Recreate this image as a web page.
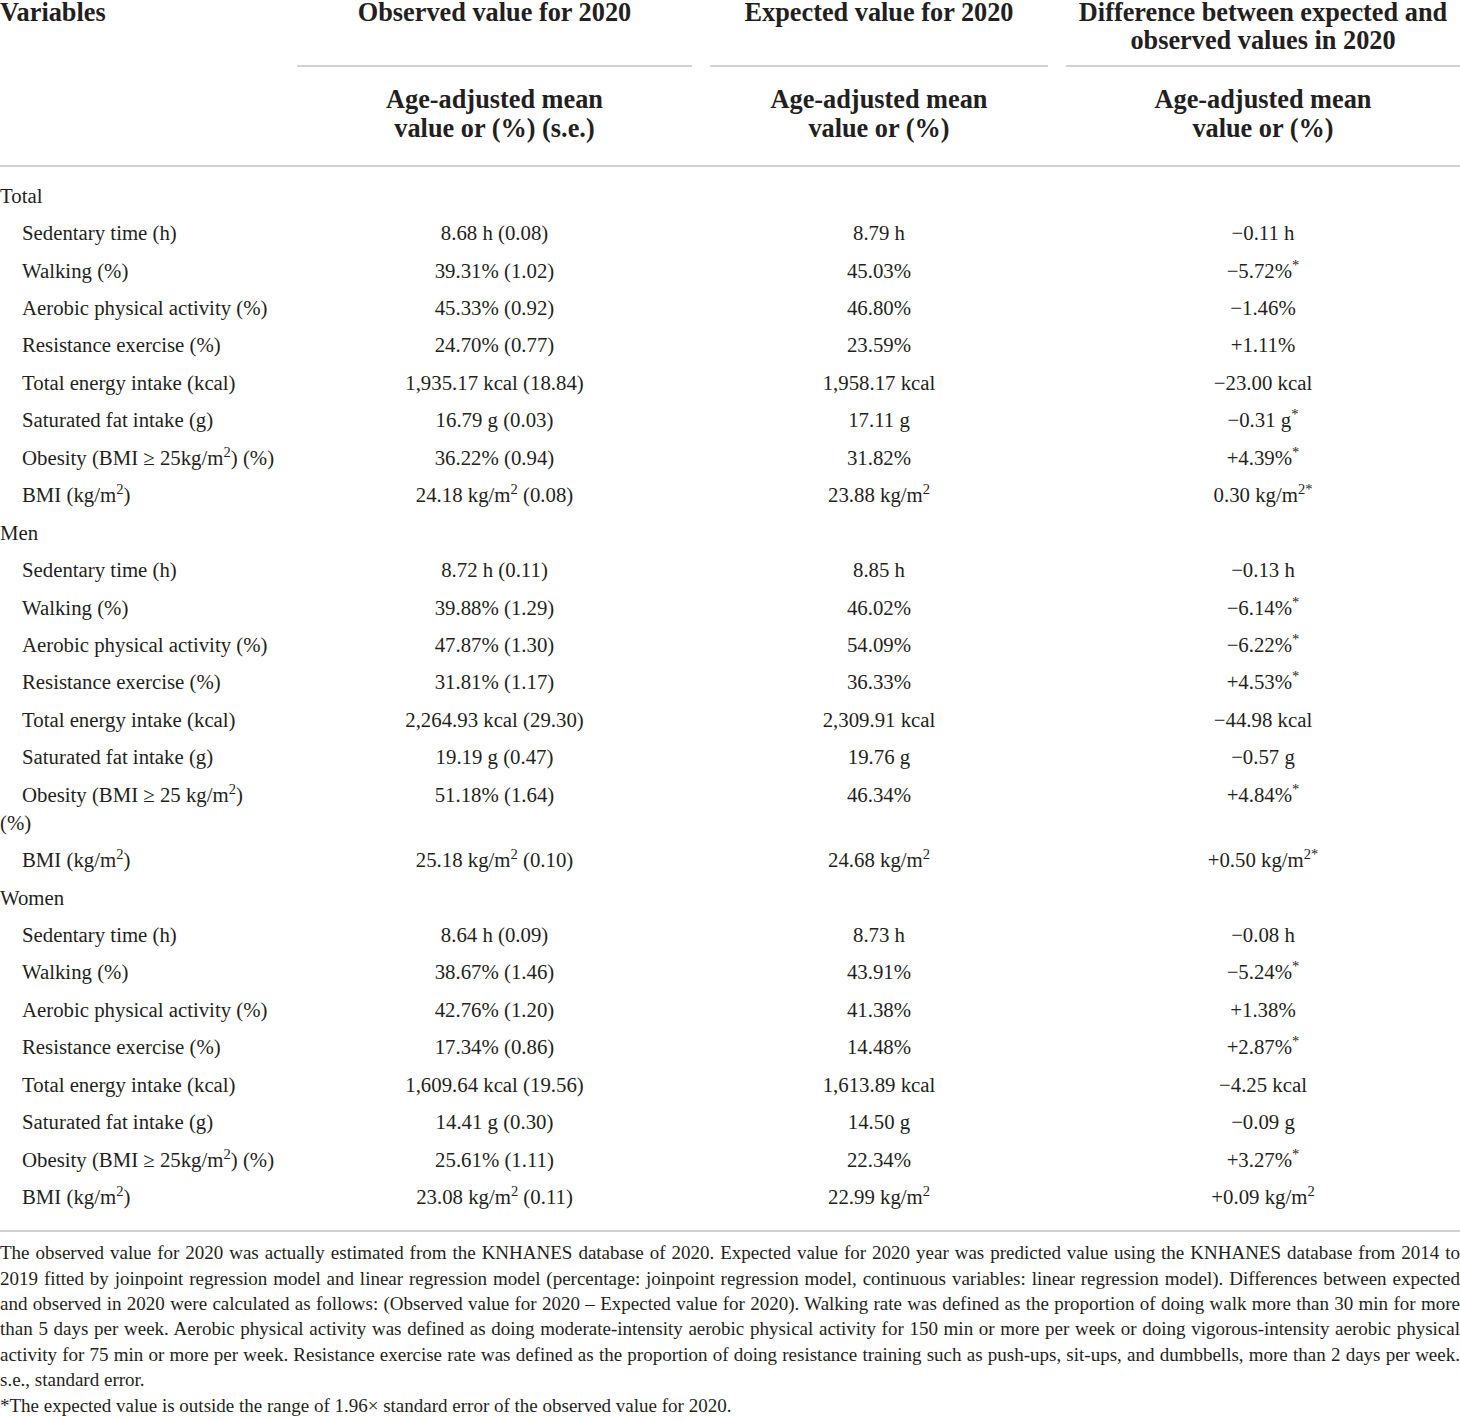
<!DOCTYPE html>
<html lang="en">
<head>
<meta charset="UTF-8">
<title>Observed and expected values for 2020</title>
<script src="https://cdn.jsdelivr.net/npm/chart.js"></script>
<style>
    html, body { margin: 0; padding: 0; background: #fff; }
    body {
        width: 1460px;
        color: #231f20;
        font-family: "Liberation Serif", "Times New Roman", serif;
    }
    table { width: 1460px; border-collapse: collapse; table-layout: fixed; }
    th, td { padding: 0; }
    th { font-weight: bold; font-size: 26.3px; }
    .h1 th { height: 68px; vertical-align: top; }
    .h1 .box { height: 68px; box-sizing: border-box; border-bottom: 2px solid #d2d2d2; line-height: 28px; position: relative; top: -1px; }
    .h1 th.first { text-align: left; line-height: 28px; }
    .h1 th.first span { position: relative; top: -1px; }
    .h2 th { height: 98px; vertical-align: top; border-bottom: 2px solid #d2d2d2; line-height: 29px; padding-top: 17px; box-sizing: border-box; }
    .pad { padding-left: 9px !important; padding-right: 9px !important; }
    .padl { padding-left: 9px !important; }
    tbody td { font-size: 20.8px; line-height: 28px; padding-top: 4.72px; padding-bottom: 4.72px; vertical-align: top; text-align: center; }
    tbody td.var { text-align: left; text-indent: 22px; }
    tbody td.grp { text-align: left; text-indent: 0; }
    tbody tr.spacer td { height: 10px; padding: 0; }
    tbody tr.last td { padding-bottom: 19px; border-bottom: 2px solid #d2d2d2; }
    sup { font-size: 0.7em; line-height: 0; vertical-align: 0.55em; }
    .notes { font-size: 19px; line-height: 25.4px; margin-top: 8px; }
    .notes div { white-space: nowrap; }
    .notes .j { text-align: justify; text-align-last: justify; white-space: normal; word-spacing: -0.5px; }
</style>
</head>
<body>

<table id="tabela">
    <colgroup>
        <col style="width:288px">
        <col style="width:413px">
        <col style="width:356px">
        <col style="width:403px">
    </colgroup>
    <thead id="cabecalho"></thead>
    <tbody id="corpo"></tbody>
</table>
<div class="notes" id="notas"></div>

<script>
    // cabeçalhos
    const firstHeader = "Variables";
    const columnHeaders = [
        "Observed value for 2020",
        "Expected value for 2020",
        "Difference between expected and<br>observed values in 2020"
    ];
    const subHeaders = [
        "Age-adjusted mean<br>value or (%) (s.e.)",
        "Age-adjusted mean<br>value or (%)",
        "Age-adjusted mean<br>value or (%)"
    ];

    const groups = ["Total", "Men", "Women"];

    // Total
    const totalLabels = [
        "Sedentary time (h)", "Walking (%)", "Aerobic physical activity (%)", "Resistance exercise (%)",
        "Total energy intake (kcal)", "Saturated fat intake (g)", "Obesity (BMI ≥ 25kg/m^2) (%)", "BMI (kg/m^2)"
    ];
    const totalObserved = [
        "8.68 h (0.08)", "39.31% (1.02)", "45.33% (0.92)", "24.70% (0.77)",
        "1,935.17 kcal (18.84)", "16.79 g (0.03)", "36.22% (0.94)", "24.18 kg/m^2 (0.08)"
    ];
    const totalExpected = [
        "8.79 h", "45.03%", "46.80%", "23.59%",
        "1,958.17 kcal", "17.11 g", "31.82%", "23.88 kg/m^2"
    ];
    const totalDifference = [
        "−0.11 h", "−5.72%*", "−1.46%", "+1.11%",
        "−23.00 kcal", "−0.31 g*", "+4.39%*", "0.30 kg/m^2*"
    ];

    // Men
    const menLabels = [
        "Sedentary time (h)", "Walking (%)", "Aerobic physical activity (%)", "Resistance exercise (%)",
        "Total energy intake (kcal)", "Saturated fat intake (g)", "Obesity (BMI ≥ 25 kg/m^2)|(%)", "BMI (kg/m^2)"
    ];
    const menObserved = [
        "8.72 h (0.11)", "39.88% (1.29)", "47.87% (1.30)", "31.81% (1.17)",
        "2,264.93 kcal (29.30)", "19.19 g (0.47)", "51.18% (1.64)", "25.18 kg/m^2 (0.10)"
    ];
    const menExpected = [
        "8.85 h", "46.02%", "54.09%", "36.33%",
        "2,309.91 kcal", "19.76 g", "46.34%", "24.68 kg/m^2"
    ];
    const menDifference = [
        "−0.13 h", "−6.14%*", "−6.22%*", "+4.53%*",
        "−44.98 kcal", "−0.57 g", "+4.84%*", "+0.50 kg/m^2*"
    ];

    // Women
    const womenLabels = [
        "Sedentary time (h)", "Walking (%)", "Aerobic physical activity (%)", "Resistance exercise (%)",
        "Total energy intake (kcal)", "Saturated fat intake (g)", "Obesity (BMI ≥ 25kg/m^2) (%)", "BMI (kg/m^2)"
    ];
    const womenObserved = [
        "8.64 h (0.09)", "38.67% (1.46)", "42.76% (1.20)", "17.34% (0.86)",
        "1,609.64 kcal (19.56)", "14.41 g (0.30)", "25.61% (1.11)", "23.08 kg/m^2 (0.11)"
    ];
    const womenExpected = [
        "8.73 h", "43.91%", "41.38%", "14.48%",
        "1,613.89 kcal", "14.50 g", "22.34%", "22.99 kg/m^2"
    ];
    const womenDifference = [
        "−0.08 h", "−5.24%*", "+1.38%", "+2.87%*",
        "−4.25 kcal", "−0.09 g", "+3.27%*", "+0.09 kg/m^2"
    ];

    const noteLines = [
        "The observed value for 2020 was actually estimated from the KNHANES database of 2020. Expected value for 2020 year was predicted value using the KNHANES database from 2014 to",
        "2019 fitted by joinpoint regression model and linear regression model (percentage: joinpoint regression model, continuous variables: linear regression model). Differences between expected",
        "and observed in 2020 were calculated as follows: (Observed value for 2020 – Expected value for 2020). Walking rate was defined as the proportion of doing walk more than 30 min for more",
        "than 5 days per week. Aerobic physical activity was defined as doing moderate-intensity aerobic physical activity for 150 min or more per week or doing vigorous-intensity aerobic physical",
        "activity for 75 min or more per week. Resistance exercise rate was defined as the proportion of doing resistance training such as push-ups, sit-ups, and dumbbells, more than 2 days per week."
    ];
    const noteTail = [
        "s.e., standard error.",
        "*The expected value is outside the range of 1.96× standard error of the observed value for 2020."
    ];

    const dadosGrupos = [
        { labels: totalLabels, obs: totalObserved, exp: totalExpected, dif: totalDifference },
        { labels: menLabels, obs: menObserved, exp: menExpected, dif: menDifference },
        { labels: womenLabels, obs: womenObserved, exp: womenExpected, dif: womenDifference }
    ];

    // ^2 vira sobrescrito, * no fim vira asterisco sobrescrito, | quebra de linha
    function formatar(txt) {
        return txt
            .replace(/\^2/g, "<sup>2</sup>")
            .replace(/\*$/, "<sup>*</sup>")
            .replace("|", "<br>");
    }

    const cabecalho = document.getElementById("cabecalho");
    const padCls = ["pad", "pad", "padl"];
    let h1 = `<tr class="h1"><th class="first"><span>${firstHeader}</span></th>`;
    columnHeaders.forEach((c, i) => {
        h1 += `<th class="${padCls[i]}"><div class="box">${c}</div></th>`;
    });
    h1 += "</tr>";
    let h2 = `<tr class="h2"><th></th>`;
    subHeaders.forEach((c, i) => {
        h2 += `<th class="${padCls[i]}">${c}</th>`;
    });
    h2 += "</tr>";
    cabecalho.innerHTML = h1 + h2;

    const corpo = document.getElementById("corpo");
    let linhas = `<tr class="spacer"><td colspan="4"></td></tr>`;
    groups.forEach((g, gi) => {
        const d = dadosGrupos[gi];
        linhas += `<tr><td class="grp">${g}</td><td></td><td></td><td></td></tr>`;
        d.labels.forEach((lab, i) => {
            const ultima = gi === groups.length - 1 && i === d.labels.length - 1;
            linhas += `<tr${ultima ? ' class="last"' : ''}>` +
                `<td class="var">${formatar(lab)}</td>` +
                `<td class="pad">${formatar(d.obs[i])}</td>` +
                `<td class="pad">${formatar(d.exp[i])}</td>` +
                `<td class="padl">${formatar(d.dif[i])}</td></tr>`;
        });
    });
    corpo.innerHTML = linhas;

    const notas = document.getElementById("notas");
    notas.innerHTML = noteLines.map(l => `<div class="j">${l}</div>`).join("") +
        noteTail.map(l => `<div>${l}</div>`).join("");
</script>
</body>
</html>
